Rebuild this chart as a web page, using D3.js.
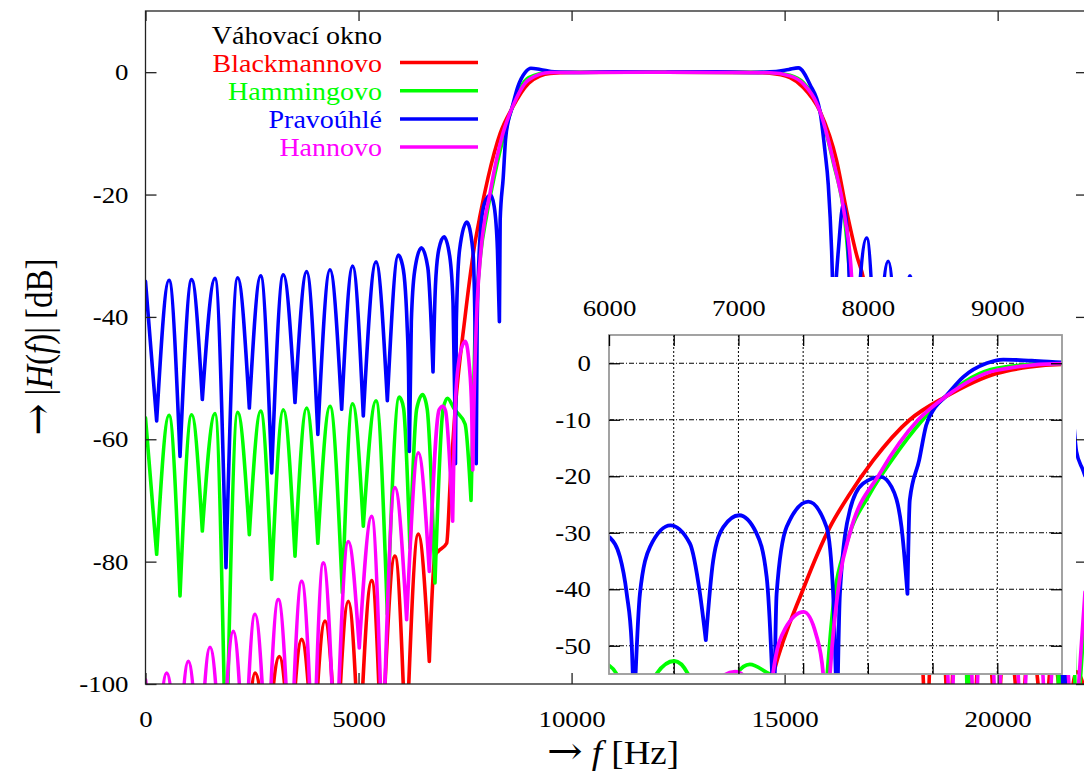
<!DOCTYPE html>
<html>
<head>
<meta charset="utf-8">
<script src="https://cdn.jsdelivr.net/npm/d3@7"></script>
<style>
  body { margin: 0; background: #fff; }
  text { font-family: "Liberation Serif", "Times New Roman", serif; }
</style>
</head>
<body>
<div id="chart"></div>
<script>
// window names and colours (legend order = drawing order)
const windowNames = ['Blackmannovo', 'Hammingovo', 'Pravoúhlé', 'Hannovo'];
const windowColors = ['#ff0000', '#00ff00', '#0000ff', '#ff00ff'];

// [frequency Hz, magnitude dB]
const blackmanPts = [
  [0,-120],[2300,-112],[2570,-98.2],[2850,-112],[3141,-95.5],[3400,-112],[3665,-92.7],[3940,-112],
  [4213,-89.7],[4486,-112],[4760,-86.5],[5017,-112],[5308,-83.1],[5543,-112],[5855,-79.1],[6114,-112],
  [6403,-75.5],[6661,-96.3],[6794,-79],[6872,-78.3],[7068,-77],[7160,-66],[7269,-55],[7500,-40],
  [7707,-29],[7850,-23.5],[8041,-17.2],[8324,-10],[8595,-6],[8994,-1.8],[9251,-0.65],[9495,-0.2],
  [10000,-0.05],[12200,0],[14300,-0.05],[14654,-0.15],[15126,-0.9],[15438,-2.5],[15830,-6.4],
  [16222,-14.5],[16456,-22.7],[16706,-30.3],[16847,-33.6],[17000,-41],[17160,-55],[17356,-74],
  [17552,-78],[17763,-95],[18021,-76],[18330,-112],[18569,-79],[18860,-112],[19116,-83],[19420,-112],
  [19664,-86.5],[19980,-112],[20211,-89.7],[20540,-112],[20759,-92.7],[21100,-112],[21283,-95.5],
  [21600,-112],[21854,-98],[22050,-101]
];

const hammingPts = [
  [0,-56.5],[262,-78.8],[552,-56.1],[810,-85.6],[1084,-56],[1334,-75],[1631,-55.8],[1889,-115],
  [2163,-55.6],[2437,-75.6],[2703,-55.4],[2961,-82.9],[3235,-55.2],[3509,-79.1],[3782,-54.9],[4045,-77],
  [4330,-54.6],[4620,-85.1],[4862,-54.2],[5112,-74.2],[5410,-53.7],[5676,-88.6],[5957,-53.1],[6000,-53.5],
  [6059,-55],[6207,-77.8],[6366,-55],[6505,-52.7],[6610,-55],[6794,-83.5],[6986,-55],[7088,-53.3],
  [7243,-55],[7300,-55.5],[7500,-57.5],[7640,-70],[7732,-43],[7835,-32],[8015,-23.1],[8183,-17.2],
  [8424,-10],[8595,-6],[8994,-0.9],[9495,0],[12200,0],[14654,-0.05],[15126,-0.5],[15438,-1.7],
  [15830,-6.4],[16143,-14.8],[16417,-24.5],[16534,-33.6],[16650,-44],[16784,-70],[16924,-57.5],
  [17124,-55.5],[17341,-53.5],[17630,-83.5],[17919,-52.8],[18217,-77.8],[18467,-53.1],[18748,-88.6],
  [19014,-53.7],[19320,-112],[19562,-54.2],[19804,-85],[20094,-54.6],[20392,-77],[20642,-54.9],
  [20915,-79],[21189,-55.2],[21463,-112],[21650,-60],[21840,-110],[22050,-88]
];

const rectPts = [
  [0,-34.2],[262,-57],[552,-34],[810,-62.8],[1084,-33.9],[1334,-53.5],[1631,-33.7],[1889,-81],
  [2163,-33.6],[2437,-54.9],[2703,-33.3],[2961,-65.5],[3235,-33.1],[3509,-54],[3782,-32.6],[4045,-59.2],
  [4330,-32.3],[4604,-55.1],[4862,-31.7],[5112,-56.2],[5410,-31],[5676,-53.7],[5934,-29.9],[6000,-30.7],
  [6085,-34.3],[6137,-40.8],[6175,-49.6],[6193,-62],[6239,-40.8],[6317,-32.5],[6475,-28.7],[6625,-31.9],
  [6703,-40.8],[6748,-49],[6805,-34.9],[6883,-29],[7006,-26.9],[7140,-30.1],[7218,-37.8],[7256,-52.6],
  [7275,-64],[7295,-40.8],[7372,-29],[7540,-24.5],[7681,-29],[7732,-40.8],[7762,-64],[7784,-40.8],
  [7861,-26],[7963,-21.3],[8100,-20.1],[8183,-21.9],[8260,-29],[8306,-40.8],[8324,-24.2],[8396,-17.2],
  [8450,-11],[8520,-7.8],[8595,-6],[8738,-2.4],[8917,0],[9046,0.65],[9266,0.45],[9600,0.05],
  [10200,-0.05],[11000,0.05],[12200,0],[13400,0.05],[14200,-0.05],[14800,0.1],[15100,0.45],[15321,0.7],
  [15595,-2],[15830,-6.4],[15947,-12.9],[16025,-18.4],[16104,-29.3],[16150,-40],[16259,-29.3],
  [16377,-21.6],[16494,-29.3],[16580,-55],[16925,-27.1],[17150,-52],[17432,-30.9],[17680,-55],
  [17942,-33.3],[18200,-55],[18470,-35],[18720,-56],[18990,-36],[19250,-57],[19520,-37],[19790,-58],
  [20060,-38],[20330,-60],[20600,-40],[20870,-62],[21140,-43],[21580,-112],[21700,-52],[21850,-62],
  [22000,-65],[22050,-66]
];

const hannPts = [
  [0,-99.3],[250,-115],[497,-98.2],[760,-115],[1005,-96.3],[1260,-115],[1514,-94],[1790,-115],
  [2061,-91.4],[2320,-115],[2570,-88.6],[2850,-115],[3117,-86.2],[3400,-115],[3665,-83.2],[3940,-115],
  [4173,-80.2],[4460,-115],[4760,-76.7],[5017,-94.1],[5308,-72.6],[5566,-112],[5855,-67.9],[6129,-89.5],
  [6403,-62.2],[6661,-81.6],[6890,-55.2],[6974,-54.6],[7040,-55.3],[7209,-73.4],[7267,-55],[7360,-47],
  [7505,-44],[7600,-48],[7655,-55],[7680,-65],[7707,-55],[7784,-37.8],[7861,-30.1],[8093,-19.5],
  [8389,-10],[8595,-6],[8994,-1.24],[9495,-0.05],[12200,0],[14654,-0.1],[15126,-0.6],[15438,-1.9],
  [15830,-6.4],[16143,-14.5],[16417,-23.8],[16573,-33.6],[16700,-60],[16886,-44],[17215,-73],
  [17450,-55],[17763,-82],[18021,-62],[18295,-90],[18569,-68],[18900,-112],[19150,-73],[19470,-112],
  [19710,-77],[19980,-112],[20270,-80],[20570,-112],[20860,-83],[21160,-112],[21450,-86],[21780,-112],
  [22050,-85]
];

const seriesPts = [blackmanPts, hammingPts, rectPts, hannPts];

const mainXTicks = [0, 5000, 10000, 15000, 20000];
const mainYTicks = [0, -20, -40, -60, -80, -100];
const insetXTicks = [6000, 6500, 7000, 7500, 8000, 8500, 9000, 9500];
const insetXLabels = [6000, 7000, 8000, 9000];
const insetYTicks = [0, -10, -20, -30, -40, -50];

const legendTitle = 'Váhovací okno';

const width = 1084, height = 772;
const stretch = 1.12;   // the reference text is a little wider than plain Times
const serif = '"Liberation Serif", "Times New Roman", serif';

const svg = d3.select('#chart').append('svg')
    .attr('width', width)
    .attr('height', height)
    .style('background', '#fff');

const xMain = d3.scaleLinear().domain([0, 22050]).range([145.5, 1085]);
const yMain = d3.scaleLinear().domain([-100, 10]).range([684, 11]);
const xIn = d3.scaleLinear().domain([6000, 9500]).range([609, 1062]);
const yIn = d3.scaleLinear().domain([-55, 5]).range([674, 335]);

// break each curve at its nulls so the nulls stay sharp
function splitAtNulls(pts) {
    const pieces = [];
    let cur = [pts[0]];
    for (let i = 1; i < pts.length; i++) {
        cur.push(pts[i]);
        if (i < pts.length - 1 && pts[i][1] < pts[i - 1][1] && pts[i][1] < pts[i + 1][1]) {
            pieces.push(cur);
            cur = [pts[i]];
        }
    }
    pieces.push(cur);
    return pieces;
}

function curvePath(pts, x, y) {
    const line = d3.line()
        .x(d => x(d[0]))
        .y(d => y(d[1]))
        .curve(d3.curveMonotoneX);
    return splitAtNulls(pts).map(p => line(p)).join('');
}

// widen tick label glyphs in place
function styleTickText(sel) {
    sel.each(function() {
        const t = d3.select(this);
        const tx = +t.attr('x') || 0;
        const ty = +t.attr('y') || 0;
        t.attr('x', 0).attr('y', 0)
            .attr('transform', `translate(${tx},${ty}) scale(${stretch},1)`);
    })
    .style('font-size', '24px')
    .style('font-family', serif)
    .attr('fill', '#000');
}

const tickFmt = d => String(d);

const defs = svg.append('defs');
defs.append('clipPath').attr('id', 'clipMain').append('rect')
    .attr('x', xMain.range()[0]).attr('y', yMain.range()[1])
    .attr('width', xMain.range()[1] - xMain.range()[0])
    .attr('height', yMain.range()[0] - yMain.range()[1]);
defs.append('clipPath').attr('id', 'clipInset').append('rect')
    .attr('x', xIn.range()[0]).attr('y', yIn.range()[1])
    .attr('width', xIn.range()[1] - xIn.range()[0])
    .attr('height', yIn.range()[0] - yIn.range()[1]);

// ---- main plot curves
const mainCurves = svg.append('g').attr('clip-path', 'url(#clipMain)');
seriesPts.forEach((pts, i) => {
    mainCurves.append('path')
        .attr('d', curvePath(pts, xMain, yMain))
        .attr('fill', 'none')
        .attr('stroke', windowColors[i])
        .attr('stroke-width', 3.6)
        .attr('stroke-linecap', 'round')
        .attr('stroke-linejoin', 'round');
});

// ---- white background of the inset
svg.append('rect')
    .attr('x', 548).attr('y', 277)
    .attr('width', 1076 - 548).attr('height', 675 - 277)
    .attr('fill', '#fff');

// ---- main frame and ticks
svg.append('rect')
    .attr('x', xMain.range()[0]).attr('y', yMain.range()[1])
    .attr('width', xMain.range()[1] - xMain.range()[0])
    .attr('height', yMain.range()[0] - yMain.range()[1])
    .attr('fill', 'none')
    .attr('stroke', '#222')
    .attr('stroke-width', 1.3);

const yAxisMain = svg.append('g')
    .attr('transform', `translate(${xMain.range()[0]}, 0)`)
    .call(d3.axisLeft(yMain).tickValues(mainYTicks).tickSizeInner(-11).tickSizeOuter(0).tickPadding(17).tickFormat(tickFmt));
svg.append('g')
    .attr('transform', `translate(${xMain.range()[1]}, 0)`)
    .call(d3.axisRight(yMain).tickValues(mainYTicks).tickSizeInner(-9).tickSizeOuter(0).tickFormat(''));
const xAxisMain = svg.append('g')
    .attr('transform', `translate(0, ${yMain.range()[0]})`)
    .call(d3.axisBottom(xMain).tickValues(mainXTicks).tickSizeInner(-11).tickSizeOuter(0).tickPadding(26).tickFormat(tickFmt));
svg.append('g')
    .attr('transform', `translate(0, ${yMain.range()[1]})`)
    .call(d3.axisTop(xMain).tickValues(mainXTicks).tickSizeInner(-10).tickSizeOuter(0).tickFormat(''));

svg.selectAll('.domain').remove();
svg.selectAll('.tick line').attr('stroke', '#222').attr('stroke-width', 1.3);
styleTickText(yAxisMain.selectAll('text'));
styleTickText(xAxisMain.selectAll('text'));

// axis titles
const yTitle = svg.append('text')
    .attr('transform', `translate(52, 347) rotate(-90) scale(1, ${stretch})`)
    .attr('text-anchor', 'middle')
    .style('font-size', '33px');
yTitle.append('tspan').style('font-family', '"DejaVu Serif", serif').style('font-size', '38px').text('→');
yTitle.append('tspan').text(' |');
yTitle.append('tspan').style('font-style', 'italic').text('H');
yTitle.append('tspan').text('(');
yTitle.append('tspan').style('font-style', 'italic').text('f');
yTitle.append('tspan').text(')| [dB]');

const xTitle = svg.append('text')
    .attr('transform', `translate(613, 764) scale(${stretch}, 1)`)
    .attr('text-anchor', 'middle')
    .style('font-size', '33px');
xTitle.append('tspan').style('font-family', '"DejaVu Serif", serif').style('font-size', '38px').text('→');
xTitle.append('tspan').text(' ');
xTitle.append('tspan').style('font-style', 'italic').text('f');
xTitle.append('tspan').text(' [Hz]');

// ---- legend
const legend = svg.append('g').attr('class', 'legend');
legend.append('text')
    .attr('transform', `translate(382, 43.5) scale(${stretch}, 1)`)
    .attr('text-anchor', 'end')
    .style('font-size', '25px')
    .attr('fill', '#000')
    .text(legendTitle);
windowNames.forEach((name, i) => {
    const yy = 62.5 + i * 28.2;
    legend.append('text')
        .attr('transform', `translate(382, ${yy + 9.3}) scale(${stretch}, 1)`)
        .attr('text-anchor', 'end')
        .style('font-size', '25px')
        .attr('fill', windowColors[i])
        .text(name);
    legend.append('line')
        .attr('x1', 400).attr('x2', 478)
        .attr('y1', yy).attr('y2', yy)
        .attr('stroke', windowColors[i])
        .attr('stroke-width', 3.5);
});

// ---- inset
const inset = svg.append('g').attr('class', 'inset');

inset.selectAll('.vgrid')
    .data(insetXTicks.slice(1, -1))
    .enter()
    .append('line')
    .attr('class', 'vgrid')
    .attr('x1', d => xIn(d)).attr('x2', d => xIn(d))
    .attr('y1', yIn.range()[1]).attr('y2', yIn.range()[0])
    .attr('stroke', '#000')
    .attr('stroke-width', 1)
    .attr('stroke-dasharray', '2,2');

inset.selectAll('.hgrid')
    .data(insetYTicks)
    .enter()
    .append('line')
    .attr('class', 'hgrid')
    .attr('x1', xIn.range()[0]).attr('x2', xIn.range()[1])
    .attr('y1', d => yIn(d)).attr('y2', d => yIn(d))
    .attr('stroke', '#000')
    .attr('stroke-width', 1)
    .attr('stroke-dasharray', '5,2,1,2');

const insetCurves = inset.append('g').attr('clip-path', 'url(#clipInset)');
seriesPts.forEach((pts, i) => {
    insetCurves.append('path')
        .attr('d', curvePath(pts, xIn, yIn))
        .attr('fill', 'none')
        .attr('stroke', windowColors[i])
        .attr('stroke-width', 3.8)
        .attr('stroke-linecap', 'round')
        .attr('stroke-linejoin', 'round');
});

inset.append('rect')
    .attr('x', xIn.range()[0]).attr('y', yIn.range()[1])
    .attr('width', xIn.range()[1] - xIn.range()[0])
    .attr('height', yIn.range()[0] - yIn.range()[1])
    .attr('fill', 'none')
    .attr('stroke', '#999')
    .attr('stroke-width', 1.8);

const yAxisIn = inset.append('g')
    .attr('transform', `translate(${xIn.range()[0]}, 0)`)
    .call(d3.axisLeft(yIn).tickValues(insetYTicks).tickSizeInner(-11).tickSizeOuter(0).tickPadding(18).tickFormat(tickFmt));
inset.append('g')
    .attr('transform', `translate(${xIn.range()[1]}, 0)`)
    .call(d3.axisRight(yIn).tickValues(insetYTicks).tickSizeInner(-11).tickSizeOuter(0).tickFormat(''));
const xAxisIn = inset.append('g')
    .attr('transform', `translate(0, ${yIn.range()[1]})`)
    .call(d3.axisTop(xIn).tickValues(insetXTicks.slice(0, -1)).tickSizeInner(-11).tickSizeOuter(0).tickPadding(19)
        .tickFormat(d => insetXLabels.includes(d) ? String(d) : ''));
inset.append('g')
    .attr('transform', `translate(0, ${yIn.range()[0]})`)
    .call(d3.axisBottom(xIn).tickValues(insetXTicks.slice(1, -1)).tickSizeInner(-11).tickSizeOuter(0).tickFormat(''));

inset.selectAll('.domain').remove();
inset.selectAll('.tick line').attr('stroke', '#000').attr('stroke-width', 1.3);
styleTickText(yAxisIn.selectAll('text'));
styleTickText(xAxisIn.selectAll('text'));
</script>
</body>
</html>
